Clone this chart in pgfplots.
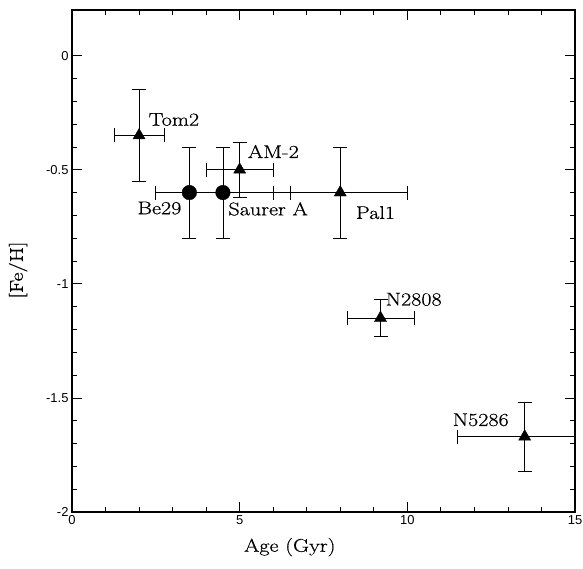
\documentclass[border=0pt]{standalone}
\usepackage{fontspec}
\setmainfont{Liberation Sans}
\newfontfamily\hershey[FakeStretch=1.2,FakeBold=0.6]{Latin Modern Roman}
\usepackage{pgfplots}
\pgfplotsset{compat=1.18}
\newcommand{\lab}{\fontsize{18.5}{22}\selectfont\hershey}
\begin{document}
\begin{tikzpicture}
\begin{axis}[
  scale only axis, width=503bp, height=502bp,
  xmin=0, xmax=15, ymin=-2, ymax=0.2,
  xtick={0,5,10,15}, xticklabels={0,5,10,15},
  ytick={-2,-1.5,-1,-0.5,0}, yticklabels={-2,-1.5,-1,-0.5,0},
  /pgf/number format/assume math mode=true,
  minor x tick num=4, minor y tick num=4,
  tick align=inside, major tick length=10bp, minor tick length=5bp,
  tick style={black, line width=0.8bp},
  axis line style={line width=1.5bp},
  tick label style={font=\fontsize{13}{15}\selectfont},
  xlabel={\lab Age (Gyr)}, ylabel={\lab [Fe/H]},
  xlabel style={at={(axis description cs:0.433,-0.07)}, anchor=center},
  ylabel style={at={(axis description cs:-0.107,0.482)}, anchor=center},
]
\addplot[only marks, mark=triangle*, mark size=7bp, mark options={fill=black, draw=black},
  error bars/x dir=both, error bars/x explicit, error bars/y dir=both, error bars/y explicit,
  error bars/error bar style={black, line width=0.8bp},
  error bars/error mark options={black, line width=0.8bp, mark size=7bp, rotate=90}]
  coordinates {
  (2,-0.35) +- (0.75,0.2)
  (5,-0.5) +- (1,0.12)
  (8,-0.6) +- (2,0.2)
  (9.2,-1.15) +- (1,0.08)
  (13.5,-1.67) +- (2,0.15)
};
\addplot[only marks, mark=*, mark size=7.3bp, mark options={fill=black, draw=black},
  error bars/x dir=both, error bars/x explicit, error bars/y dir=both, error bars/y explicit,
  error bars/error bar style={black, line width=0.8bp},
  error bars/error mark options={black, line width=0.8bp, mark size=7bp, rotate=90}]
  coordinates {
  (3.5,-0.6) +- (1,0.2)
  (4.5,-0.6) +- (2,0.2)
};
\node[anchor=west, inner sep=0pt] at (axis cs:2.28,-0.28) {\lab Tom2};
\node[anchor=west, inner sep=0pt] at (axis cs:5.24,-0.42) {\lab AM-2};
\node[anchor=west, inner sep=0pt] at (axis cs:1.95,-0.668) {\lab Be29};
\node[anchor=west, inner sep=0pt] at (axis cs:4.66,-0.672) {\lab Saurer A};
\node[anchor=west, inner sep=0pt] at (axis cs:8.46,-0.688) {\lab Pal1};
\node[anchor=west, inner sep=0pt] at (axis cs:9.35,-1.068) {\lab N2808};
\node[anchor=west, inner sep=0pt] at (axis cs:11.35,-1.596) {\lab N5286};
\end{axis}
\pgfresetboundingbox
\path ([shift={(-72bp,-57bp)}]current axis.south west) rectangle ([shift={(8bp,10bp)}]current axis.north east);
\end{tikzpicture}
\end{document}
